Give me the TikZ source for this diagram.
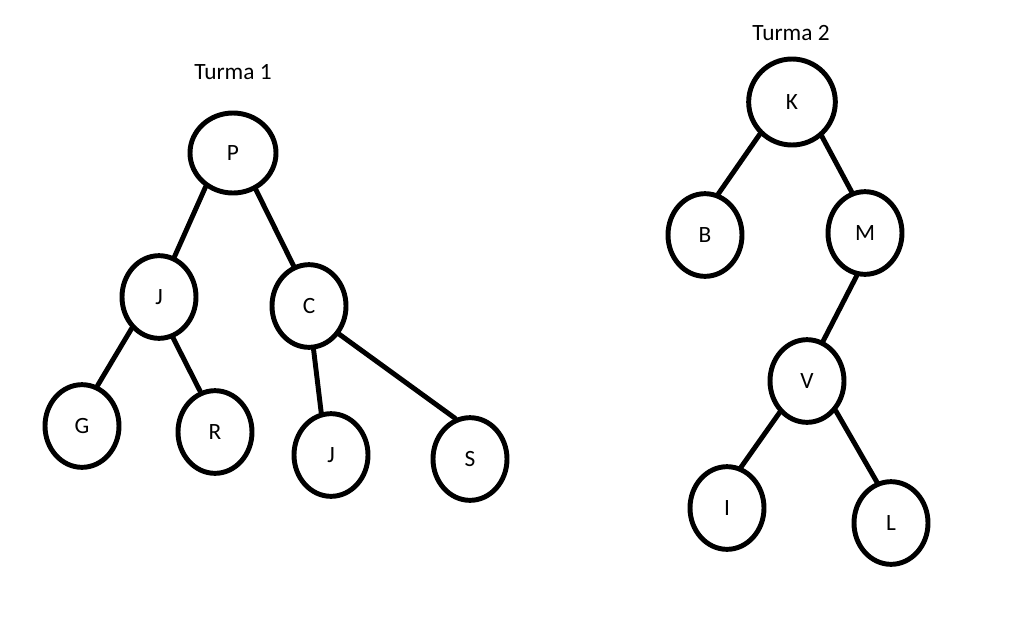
\documentclass[tikz,border=0pt]{standalone}
\usepackage{fontspec}
\setmainfont{Carlito}
\usetikzlibrary{shapes.geometric}
\begin{document}
\begin{tikzpicture}[x=0.75pt,y=-0.75pt,
  nd/.style={draw,ellipse,line width=3.7pt,inner sep=0pt,minimum width=55.5pt,minimum height=62pt,font=\fontsize{17.5}{20}\selectfont},
  big/.style={minimum width=64.5pt,minimum height=60pt},
  bigk/.style={minimum width=65pt,minimum height=64.5pt},
  edge/.style={line width=3.7pt,line cap=round},
  title/.style={font=\fontsize{17.5}{20}\selectfont}]
\useasboundingbox[fill=white] (0,0) rectangle (1010,622);
% Turma 1
\node[title] (t1) at (233,72) {Turma 1};
\node[nd,big] (P) at (233,153) {P};
\node[nd] (J) at (159,297) {J};
\node[nd] (C) at (309,306) {C};
\node[nd] (G) at (82,426) {G};
\node[nd] (R) at (215,432) {R};
\node[nd] (J2) at (331,455) {J};
\node[nd] (S) at (470,459) {S};
\draw[edge] (P.-129) -- (J.69);
\draw[edge] (P.-58) -- (C.111);
\draw[edge] (J.-131) -- (G.69);
\draw[edge] (J.-71) -- (R.110);
\draw[edge] (C.-84) -- (J2.103);
\draw[edge] (C.-43) -- (S.110);
% Turma 2
\node[title] (t2) at (791,33) {Turma 2};
\node[nd,bigk] (K) at (792,102) {K};
\node[nd] (B) at (705,235) {B};
\node[nd] (M) at (865,233) {M};
\node[nd] (V) at (807,381) {V};
\node[nd] (I) at (727,508) {I};
\node[nd] (L) at (891,523) {L};
\draw[edge] (K.-135) -- (B.72);
\draw[edge] (K.-49) -- (M.108);
\draw[edge] (M.-101) -- (V.68);
\draw[edge] (V.-131) -- (I.71);
\draw[edge] (V.-46) -- (L.109);
\end{tikzpicture}
\end{document}
